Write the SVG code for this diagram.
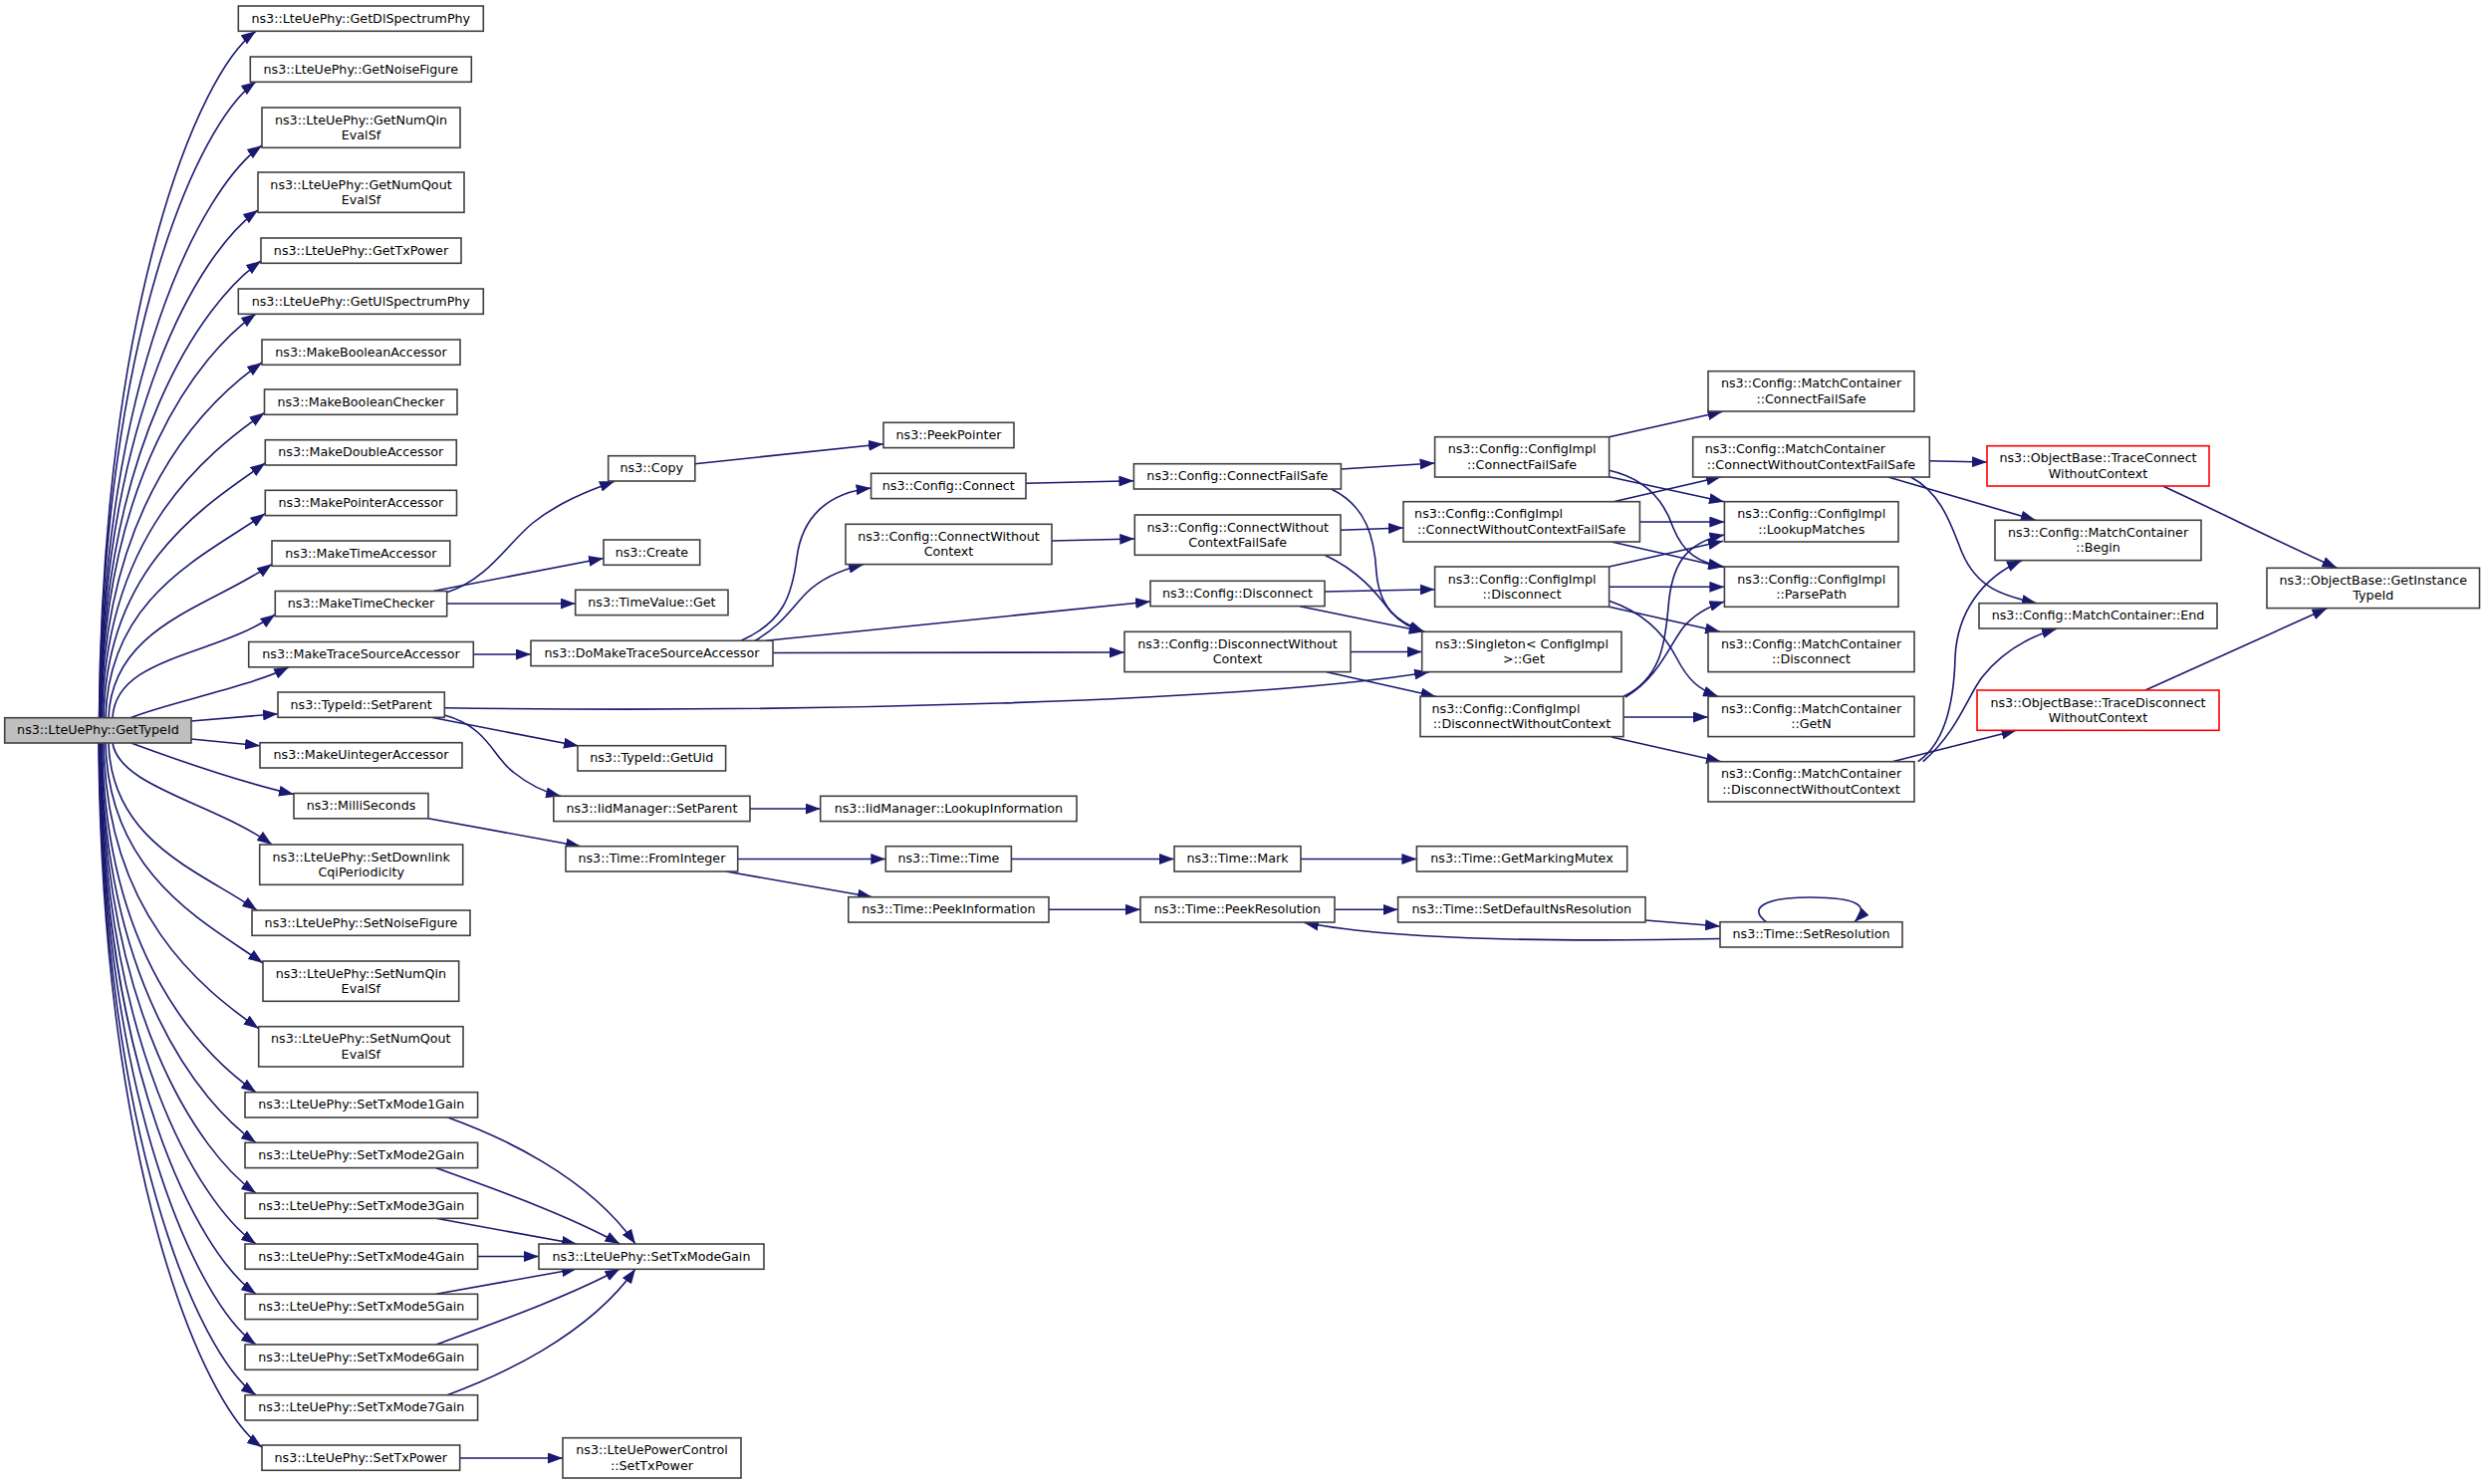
<svg xmlns="http://www.w3.org/2000/svg" width="2495" height="1490" viewBox="0 0 2495 1490">
<style>
rect{fill:#ffffff;stroke:#404040;stroke-width:1.6}
rect.root{fill:#bfbfbf}
rect.red{stroke:#ff0000}
text{font-family:"DejaVu Sans","Liberation Sans",sans-serif;font-size:12.7px;text-anchor:middle;fill:#000000}
text.l{text-anchor:start}
#edges path{fill:none;stroke:#191970;stroke-width:1.6;marker-end:url(#arr)}
</style>
<defs>
<marker id="arr" viewBox="0 0 15 11" refX="15" refY="5.5" markerWidth="15" markerHeight="11" markerUnits="userSpaceOnUse" orient="auto">
<path d="M0,0 L15,5.5 L0,11 Z" fill="#191970"/>
</marker>
</defs>
<rect x="0" y="0" width="2495" height="1490" style="fill:#ffffff;stroke:none"/>
<g id="edges">
<path d="M99.5,720.7 C102.7,307 198.7,72.3 257,31.3"/>
<path d="M99.7,720.7 C102.8,337.5 198.8,122.9 257,82"/>
<path d="M100,720.7 C103.3,375.9 202.7,188.4 263,146"/>
<path d="M100.3,720.7 C103.5,414.9 200.3,252.3 259,211"/>
<path d="M100.6,720.7 C103.8,445.5 202.3,304 262,262"/>
<path d="M101,720.7 C104,477.3 199.3,355.6 257,315"/>
<path d="M101.5,720.7 C104.7,506.7 203.2,406 263,364"/>
<path d="M102.5,720.7 C105.8,537 205.2,456.9 265.5,414.5"/>
<path d="M104,720.7 C107.2,567.3 206.3,507.2 266.3,465"/>
<path d="M106,720.7 C109.2,597.6 207,557.3 266.3,515.6"/>
<path d="M109,720.7 C112.3,628 212.3,609 273,566.3"/>
<path d="M113,720.7 C116.3,658.5 215.9,659.5 276.3,617"/>
<path d="M131,720.7 C170,705 250,690 290,669.7"/>
<path d="M192,724 L279,716.7"/>
<path d="M192,742 L261,748.7"/>
<path d="M131.7,746 C175,762 240,785 295,797.5"/>
<path d="M113,746 C120,790 214,806 273,848"/>
<path d="M109,746 C112,846.8 203,875.3 258,914"/>
<path d="M106,746 C109,878.6 205.5,925.9 264,967"/>
<path d="M104,746 C107,918 202.1,992.2 259.7,1032.7"/>
<path d="M102.5,746 C105.6,956.4 199.8,1056.5 257,1096.7"/>
<path d="M101.5,746 C104.6,986.8 199.5,1106.9 257,1147.3"/>
<path d="M101,746 C104,1017 199.3,1157.4 257,1198"/>
<path d="M100.5,746 C103.6,1047.8 199,1208.3 257,1249"/>
<path d="M100,746 C103,1078 198.9,1258.5 257,1299.3"/>
<path d="M99.7,746 C102.8,1108.4 198.8,1309.1 257,1350"/>
<path d="M99.4,746 C102.6,1138.8 198.7,1359.7 257,1400.7"/>
<path d="M99,746 C102.3,1170 202.3,1410.4 263,1453"/>
<path d="M448,595 C490,582 510,545 535,525 C560,505 590,493 617,483.3"/>
<path d="M435,593.5 L606,560.5"/>
<path d="M448.7,606 L577.7,606"/>
<path d="M475.3,657 L533,657"/>
<path d="M697.8,465.7 L887,445.7"/>
<path d="M744,643.3 C785,625 795,600 800,560 C805,520 830,495 874.6,490"/>
<path d="M758,643.3 C785,628 795,610 810,595 C825,580 845,572 867,566.7"/>
<path d="M769,643.3 L1155,604"/>
<path d="M776,655.5 L1129,655"/>
<path d="M446.3,710.7 C800,716 1250,705 1435,674.7"/>
<path d="M433,720.3 L581,749"/>
<path d="M446.3,718 C490,730 495,760 515,775 C530,787 545,795 563,799.3"/>
<path d="M430,821.7 L583,849.7"/>
<path d="M753,812 L823.7,812"/>
<path d="M740.7,862.5 L889.3,862.5"/>
<path d="M729,875 L876,900.7"/>
<path d="M1015.4,862.5 L1179,862.5"/>
<path d="M1053,913.3 L1145,913.3"/>
<path d="M1306,862.5 L1422.4,862.5"/>
<path d="M1340,913.3 L1403.6,913.3"/>
<path d="M1652,924 L1727,930"/>
<path d="M1727,942.5 C1560,946 1400,944 1309,926.3"/>
<path d="M1773.5,925.7 C1755,912 1770,901 1818,901 C1866,901 1878,910 1862,925.7"/>
<path d="M449,1121.7 C500,1140 590,1180 638,1249"/>
<path d="M437.8,1172.7 C500,1195 570,1220 622.4,1249"/>
<path d="M437.8,1223.3 L579,1249"/>
<path d="M479.6,1261.5 L541,1261.5"/>
<path d="M437.8,1299.3 L579,1274"/>
<path d="M437.8,1350 C500,1327 570,1302 622.4,1274"/>
<path d="M449,1400.7 C500,1382 590,1342 638,1274"/>
<path d="M461.7,1464 L565,1464"/>
<path d="M1030,485.3 L1138.4,482.7"/>
<path d="M1056,543 L1139.3,541"/>
<path d="M1346.4,471 L1440.6,465"/>
<path d="M1336.6,491 C1372,508 1380,540 1382,575 C1385,610 1402,624 1430,634.3"/>
<path d="M1346,532.3 L1409,530"/>
<path d="M1330,557.3 C1368,575 1385,600 1397,615 C1407,626 1417,631 1430,634.3"/>
<path d="M1330,594 L1440.6,591.7"/>
<path d="M1305,608.7 L1430,634.3"/>
<path d="M1356,654.5 L1427.7,654.5"/>
<path d="M1332,674.7 L1441.5,699.3"/>
<path d="M1615.6,438.7 L1729.5,413.3"/>
<path d="M1615.6,478.7 L1731,503.7"/>
<path d="M1615.6,472.3 C1650,480 1670,500 1680,530 C1690,555 1705,565 1731,569"/>
<path d="M1620,503.7 L1728,478.7"/>
<path d="M1646.4,524 L1731.4,524"/>
<path d="M1618,544 L1730,569.5"/>
<path d="M1615.6,569 L1730,543.3"/>
<path d="M1615.6,589.3 L1731.4,589.3"/>
<path d="M1615.6,609.3 L1727,634.3"/>
<path d="M1615.6,603.3 C1650,615 1670,635 1683,660 C1695,683 1705,692 1725,699.3"/>
<path d="M1630,699.3 C1670,680 1672,640 1675,610 C1678,570 1690,545 1731.4,537"/>
<path d="M1632,700 C1665,680 1675,650 1690,630 C1700,618 1712,610 1731.4,604"/>
<path d="M1630,720 L1715,720"/>
<path d="M1618,740 L1728,764.7"/>
<path d="M1937.3,462.7 L1995,464"/>
<path d="M1895,478.7 L2043.8,522.3"/>
<path d="M1918,478.7 C1950,495 1960,530 1970,555 C1985,590 2010,598 2045,605.7"/>
<path d="M2171.6,488 C2230,515 2300,550 2346.5,570.3"/>
<path d="M2154,693 L2336.4,610.7"/>
<path d="M1925.6,764.7 C1955,745 1962,700 1963,660 C1965,615 1990,580 2030,562.7"/>
<path d="M1930.7,764.7 C1965,735 1975,700 1990,680 C2010,655 2035,640 2065,631.3"/>
<path d="M1900,764.7 L2024.5,733.3"/>
</g>
<g id="n0"><rect class="root" x="4.7" y="720.7" width="187.3" height="25.3"/><text x="98.4" y="737.4">ns3::LteUePhy::GetTypeId</text></g>
<g id="n1"><rect x="239.3" y="6" width="246" height="25.3"/><text x="362.3" y="22.7">ns3::LteUePhy::GetDlSpectrumPhy</text></g>
<g id="n2"><rect x="251.3" y="57" width="222" height="25.3"/><text x="362.3" y="73.7">ns3::LteUePhy::GetNoiseFigure</text></g>
<g id="n3"><rect x="263" y="108" width="199" height="40.3"/><text x="362.5" y="124.6">ns3::LteUePhy::GetNumQin</text><text x="362.5" y="139.8">EvalSf</text></g>
<g id="n4"><rect x="259" y="173" width="207" height="40.3"/><text x="362.5" y="189.6">ns3::LteUePhy::GetNumQout</text><text x="362.5" y="204.8">EvalSf</text></g>
<g id="n5"><rect x="262" y="239" width="201" height="25.3"/><text x="362.5" y="255.7">ns3::LteUePhy::GetTxPower</text></g>
<g id="n6"><rect x="239.3" y="290" width="246" height="25.3"/><text x="362.3" y="306.7">ns3::LteUePhy::GetUlSpectrumPhy</text></g>
<g id="n7"><rect x="263" y="341" width="199" height="25.3"/><text x="362.5" y="357.7">ns3::MakeBooleanAccessor</text></g>
<g id="n8"><rect x="265.5" y="391" width="193.5" height="25.3"/><text x="362.3" y="407.7">ns3::MakeBooleanChecker</text></g>
<g id="n9"><rect x="266.3" y="441.7" width="192" height="25.3"/><text x="362.3" y="458.4">ns3::MakeDoubleAccessor</text></g>
<g id="n10"><rect x="266.3" y="492.3" width="192.2" height="25.3"/><text x="362.4" y="509">ns3::MakePointerAccessor</text></g>
<g id="n11"><rect x="273" y="543" width="178.8" height="25.3"/><text x="362.4" y="559.7">ns3::MakeTimeAccessor</text></g>
<g id="n12"><rect x="276.3" y="593.5" width="172.4" height="25.3"/><text x="362.5" y="610.2">ns3::MakeTimeChecker</text></g>
<g id="n13"><rect x="249.7" y="644.5" width="225.6" height="25.3"/><text x="362.5" y="661.2">ns3::MakeTraceSourceAccessor</text></g>
<g id="n14"><rect x="279" y="695" width="167.3" height="25.3"/><text x="362.6" y="711.7">ns3::TypeId::SetParent</text></g>
<g id="n15"><rect x="261" y="745.7" width="203" height="25.3"/><text x="362.5" y="762.4">ns3::MakeUintegerAccessor</text></g>
<g id="n16"><rect x="295" y="796.5" width="135" height="25.3"/><text x="362.5" y="813.2">ns3::MilliSeconds</text></g>
<g id="n17"><rect x="260.7" y="848" width="204" height="40.3"/><text x="362.7" y="864.6">ns3::LteUePhy::SetDownlink</text><text x="362.7" y="879.8">CqiPeriodicity</text></g>
<g id="n18"><rect x="253" y="914" width="219" height="25.3"/><text x="362.5" y="930.7">ns3::LteUePhy::SetNoiseFigure</text></g>
<g id="n19"><rect x="264" y="965" width="196.7" height="40.3"/><text x="362.3" y="981.6">ns3::LteUePhy::SetNumQin</text><text x="362.3" y="996.8">EvalSf</text></g>
<g id="n20"><rect x="259.7" y="1030.7" width="205.3" height="40.3"/><text x="362.3" y="1047.3">ns3::LteUePhy::SetNumQout</text><text x="362.3" y="1062.5">EvalSf</text></g>
<g id="n21"><rect x="246" y="1096.7" width="233.6" height="25.3"/><text x="362.8" y="1113.4">ns3::LteUePhy::SetTxMode1Gain</text></g>
<g id="n22"><rect x="246" y="1147.3" width="233.6" height="25.3"/><text x="362.8" y="1164">ns3::LteUePhy::SetTxMode2Gain</text></g>
<g id="n23"><rect x="246" y="1198" width="233.6" height="25.3"/><text x="362.8" y="1214.7">ns3::LteUePhy::SetTxMode3Gain</text></g>
<g id="n24"><rect x="246" y="1249" width="233.6" height="25.3"/><text x="362.8" y="1265.7">ns3::LteUePhy::SetTxMode4Gain</text></g>
<g id="n25"><rect x="246" y="1299.3" width="233.6" height="25.3"/><text x="362.8" y="1316">ns3::LteUePhy::SetTxMode5Gain</text></g>
<g id="n26"><rect x="246" y="1350" width="233.6" height="25.3"/><text x="362.8" y="1366.7">ns3::LteUePhy::SetTxMode6Gain</text></g>
<g id="n27"><rect x="246" y="1400.7" width="233.6" height="25.3"/><text x="362.8" y="1417.4">ns3::LteUePhy::SetTxMode7Gain</text></g>
<g id="n28"><rect x="263" y="1451" width="198.7" height="25.3"/><text x="362.3" y="1467.7">ns3::LteUePhy::SetTxPower</text></g>
<g id="n29"><rect x="610.7" y="457.7" width="87.1" height="25.3"/><text x="654.3" y="474.4">ns3::Copy</text></g>
<g id="n30"><rect x="606" y="542" width="96.7" height="25.3"/><text x="654.4" y="558.7">ns3::Create</text></g>
<g id="n31"><rect x="577.7" y="592.3" width="153.3" height="25.3"/><text x="654.4" y="609">ns3::TimeValue::Get</text></g>
<g id="n32"><rect x="533" y="643.3" width="243" height="25.3"/><text x="654.5" y="660">ns3::DoMakeTraceSourceAccessor</text></g>
<g id="n33"><rect x="580" y="748.7" width="148.6" height="25.3"/><text x="654.3" y="765.4">ns3::TypeId::GetUid</text></g>
<g id="n34"><rect x="555.8" y="799.3" width="197.2" height="25.3"/><text x="654.4" y="816">ns3::IidManager::SetParent</text></g>
<g id="n35"><rect x="568" y="849.7" width="172.7" height="25.3"/><text x="654.4" y="866.4">ns3::Time::FromInteger</text></g>
<g id="n36"><rect x="541" y="1249" width="226" height="25.3"/><text x="654" y="1265.7">ns3::LteUePhy::SetTxModeGain</text></g>
<g id="n37"><rect x="565" y="1443.7" width="179" height="40.3"/><text x="654.5" y="1460.3">ns3::LteUePowerControl</text><text x="654.5" y="1475.5">::SetTxPower</text></g>
<g id="n38"><rect x="887" y="424.3" width="131" height="25.3"/><text x="952.5" y="441">ns3::PeekPointer</text></g>
<g id="n39"><rect x="874.6" y="475.3" width="155.4" height="25.3"/><text x="952.3" y="492">ns3::Config::Connect</text></g>
<g id="n40"><rect x="849" y="526.3" width="207" height="40.3"/><text x="952.5" y="542.9">ns3::Config::ConnectWithout</text><text x="952.5" y="558.1">Context</text></g>
<g id="n41"><rect x="823.7" y="799.3" width="257.3" height="25.3"/><text x="952.4" y="816">ns3::IidManager::LookupInformation</text></g>
<g id="n42"><rect x="889.3" y="849.7" width="126.1" height="25.3"/><text x="952.4" y="866.4">ns3::Time::Time</text></g>
<g id="n43"><rect x="851.8" y="900.7" width="201.2" height="25.3"/><text x="952.4" y="917.4">ns3::Time::PeekInformation</text></g>
<g id="n44"><rect x="1138.4" y="465.7" width="208" height="25.3"/><text x="1242.4" y="482.4">ns3::Config::ConnectFailSafe</text></g>
<g id="n45"><rect x="1139.3" y="517" width="206.7" height="40.3"/><text x="1242.7" y="533.6">ns3::Config::ConnectWithout</text><text x="1242.7" y="548.8">ContextFailSafe</text></g>
<g id="n46"><rect x="1155" y="583.3" width="175" height="25.3"/><text x="1242.5" y="600">ns3::Config::Disconnect</text></g>
<g id="n47"><rect x="1129" y="634.3" width="227" height="40.3"/><text x="1242.5" y="650.9">ns3::Config::DisconnectWithout</text><text x="1242.5" y="666.1">Context</text></g>
<g id="n48"><rect x="1179" y="849.7" width="127" height="25.3"/><text x="1242.5" y="866.4">ns3::Time::Mark</text></g>
<g id="n49"><rect x="1145" y="900.7" width="195" height="25.3"/><text x="1242.5" y="917.4">ns3::Time::PeekResolution</text></g>
<g id="n50"><rect x="1440.6" y="438.7" width="175" height="40.3"/><text x="1528.1" y="455.3">ns3::Config::ConfigImpl</text><text x="1528.1" y="470.5">::ConnectFailSafe</text></g>
<g id="n51"><rect x="1409" y="503.7" width="237.4" height="40.3"/><text class="l" x="1420.1" y="520.3">ns3::Config::ConfigImpl</text><text x="1527.7" y="535.5">::ConnectWithoutContextFailSafe</text></g>
<g id="n52"><rect x="1440.6" y="569" width="175" height="40.3"/><text x="1528.1" y="585.6">ns3::Config::ConfigImpl</text><text x="1528.1" y="600.8">::Disconnect</text></g>
<g id="n53"><rect x="1427.7" y="634.3" width="200.3" height="40.3"/><text x="1527.9" y="650.9">ns3::Singleton&lt; ConfigImpl</text><text x="1530" y="666.1">&gt;::Get</text></g>
<g id="n54"><rect x="1426" y="699.3" width="204" height="40.3"/><text class="l" x="1437.5" y="715.9">ns3::Config::ConfigImpl</text><text x="1528" y="731.1">::DisconnectWithoutContext</text></g>
<g id="n55"><rect x="1422.4" y="849.7" width="211.3" height="25.3"/><text x="1528" y="866.4">ns3::Time::GetMarkingMutex</text></g>
<g id="n56"><rect x="1403.6" y="900.7" width="248.4" height="25.3"/><text x="1527.8" y="917.4">ns3::Time::SetDefaultNsResolution</text></g>
<g id="n57"><rect x="1715" y="372.7" width="207" height="40.3"/><text x="1818.5" y="389.3">ns3::Config::MatchContainer</text><text x="1818.5" y="404.5">::ConnectFailSafe</text></g>
<g id="n58"><rect x="1699.7" y="438.7" width="237.6" height="40.3"/><text class="l" x="1711.7" y="455.3">ns3::Config::MatchContainer</text><text x="1818.5" y="470.5">::ConnectWithoutContextFailSafe</text></g>
<g id="n59"><rect x="1731.4" y="503.7" width="174.6" height="40.3"/><text x="1818.7" y="520.3">ns3::Config::ConfigImpl</text><text x="1818.7" y="535.5">::LookupMatches</text></g>
<g id="n60"><rect x="1731.4" y="569" width="174.6" height="40.3"/><text x="1818.7" y="585.6">ns3::Config::ConfigImpl</text><text x="1818.7" y="600.8">::ParsePath</text></g>
<g id="n61"><rect x="1715" y="634.3" width="207" height="40.3"/><text x="1818.5" y="650.9">ns3::Config::MatchContainer</text><text x="1818.5" y="666.1">::Disconnect</text></g>
<g id="n62"><rect x="1715" y="699.3" width="207" height="40.3"/><text x="1818.5" y="715.9">ns3::Config::MatchContainer</text><text x="1818.5" y="731.1">::GetN</text></g>
<g id="n63"><rect x="1715" y="764.7" width="207" height="40.3"/><text x="1818.5" y="781.3">ns3::Config::MatchContainer</text><text x="1818.5" y="796.5">::DisconnectWithoutContext</text></g>
<g id="n64"><rect x="1727" y="925.7" width="183" height="25.3"/><text x="1818.5" y="942.4">ns3::Time::SetResolution</text></g>
<g id="n65"><rect class="red" x="1995" y="447.7" width="223" height="40.3"/><text x="2106.5" y="464.3">ns3::ObjectBase::TraceConnect</text><text x="2106.5" y="479.5">WithoutContext</text></g>
<g id="n66"><rect x="2003" y="522.3" width="207" height="40.3"/><text x="2106.5" y="538.9">ns3::Config::MatchContainer</text><text x="2106.5" y="554.1">::Begin</text></g>
<g id="n67"><rect x="1987" y="605.7" width="239" height="25.3"/><text x="2106.5" y="622.4">ns3::Config::MatchContainer::End</text></g>
<g id="n68"><rect class="red" x="1985" y="693" width="243" height="40.3"/><text x="2106.5" y="709.6">ns3::ObjectBase::TraceDisconnect</text><text x="2106.5" y="724.8">WithoutContext</text></g>
<g id="n69"><rect x="2276" y="570.3" width="213.5" height="40.3"/><text x="2382.8" y="586.9">ns3::ObjectBase::GetInstance</text><text x="2382.8" y="602.1">TypeId</text></g>
</svg>
